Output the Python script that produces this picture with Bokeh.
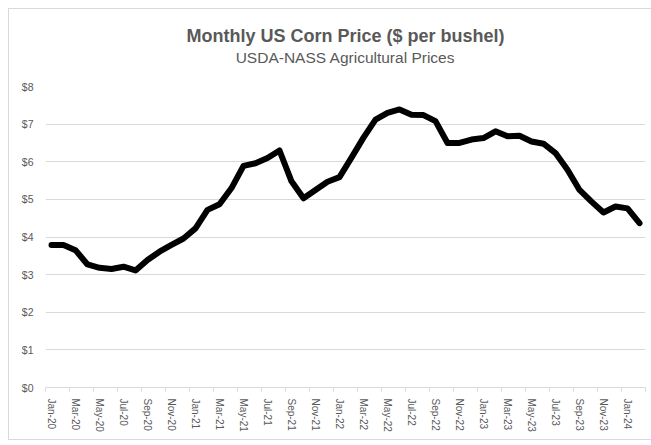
from bokeh.plotting import figure
from bokeh.models import Title, FixedTicker, NumeralTickFormatter, Range1d
from bokeh.embed import file_html
from bokeh.resources import INLINE

months = ["Jan-20", "Feb-20", "Mar-20", "Apr-20", "May-20", "Jun-20", "Jul-20", "Aug-20",
          "Sep-20", "Oct-20", "Nov-20", "Dec-20",
          "Jan-21", "Feb-21", "Mar-21", "Apr-21", "May-21", "Jun-21", "Jul-21", "Aug-21",
          "Sep-21", "Oct-21", "Nov-21", "Dec-21",
          "Jan-22", "Feb-22", "Mar-22", "Apr-22", "May-22", "Jun-22", "Jul-22", "Aug-22",
          "Sep-22", "Oct-22", "Nov-22", "Dec-22",
          "Jan-23", "Feb-23", "Mar-23", "Apr-23", "May-23", "Jun-23", "Jul-23", "Aug-23",
          "Sep-23", "Oct-23", "Nov-23", "Dec-23",
          "Jan-24", "Feb-24"]

prices = [3.79, 3.79, 3.65, 3.27, 3.18, 3.15, 3.21, 3.11, 3.39, 3.61, 3.79, 3.96,
          4.23, 4.72, 4.87, 5.30, 5.89, 5.96, 6.10, 6.30, 5.48, 5.03, 5.25, 5.47,
          5.59, 6.11, 6.64, 7.12, 7.30, 7.39, 7.25, 7.24, 7.08, 6.50, 6.50, 6.59,
          6.63, 6.81, 6.68, 6.69, 6.54, 6.48, 6.23, 5.79, 5.25, 4.94, 4.65, 4.81,
          4.76, 4.37]

y_ticks = [0, 1, 2, 3, 4, 5, 6, 7, 8]

title_text = "Monthly US Corn Price ($ per bushel)"
subtitle_text = "USDA-NASS Agricultural Prices"

TEXT = "#595959"
GRID = "#d9d9d9"
FONT = "Liberation Sans"

idx = list(range(len(months)))

p = figure(width=643, height=432, output_backend="svg", toolbar_location=None,
           x_range=Range1d(-0.5, len(months) - 0.5), y_range=Range1d(0, 8),
           min_border_left=36, min_border_right=7, min_border_top=77, min_border_bottom=54,
           title=None)

p.styles = {"margin-left": "8px", "margin-top": "8px",
            "border-left": "1px solid #d9d9d9", "border-top": "1px solid #d9d9d9",
            "border-bottom": "1px solid #d9d9d9", "box-sizing": "border-box"}

spacer = Title(text=" ", align="center", text_font=FONT, text_font_size="2px",
               text_color=TEXT, standoff=12)
sub = Title(text=subtitle_text, align="center", text_font=FONT, text_font_size="15.5px",
            text_font_style="normal", text_color=TEXT, standoff=6, vertical_align="top")
main = Title(text=title_text, align="center", text_font=FONT, text_font_size="18px",
             text_font_style="bold", text_color=TEXT, standoff=0)
p.add_layout(spacer, "above")
p.add_layout(sub, "above")
p.add_layout(main, "above")

p.line(idx, prices, line_color="black", line_width=6, line_join="round", line_cap="round")

p.outline_line_color = None
p.xgrid.grid_line_color = None
p.ygrid.grid_line_color = GRID
p.ygrid.grid_line_width = 1.2

# y axis
p.yaxis.ticker = FixedTicker(ticks=y_ticks)
p.yaxis.formatter = NumeralTickFormatter(format="$0")
p.yaxis.axis_line_color = None
p.yaxis.major_tick_line_color = None
p.yaxis.major_tick_out = 0
p.yaxis.major_tick_in = 0
p.yaxis.minor_tick_line_color = None
p.yaxis.major_label_text_font = FONT
p.yaxis.major_label_text_font_size = "10.5px"
p.yaxis.major_label_text_color = TEXT
p.yaxis.major_label_standoff = 12

# x axis
p.xaxis.ticker = FixedTicker(ticks=idx[::2], minor_ticks=[i - 0.5 for i in idx[::2]] + [len(months) - 0.5])
p.xaxis.major_label_overrides = {i: months[i] for i in idx[::2]}
p.xaxis.axis_line_color = GRID
p.xaxis.major_tick_line_color = None
p.xaxis.major_tick_out = 4
p.xaxis.major_tick_in = 0
p.xaxis.minor_tick_line_color = GRID
p.xaxis.minor_tick_out = 4
p.xaxis.minor_tick_in = 0
p.xaxis.major_label_orientation = "vertical"
p.xaxis.major_label_text_font = FONT
p.xaxis.major_label_text_font_size = "10px"
p.xaxis.major_label_text_color = TEXT
p.xaxis.major_label_standoff = 7

open("out.html", "w").write(file_html(p, INLINE))
